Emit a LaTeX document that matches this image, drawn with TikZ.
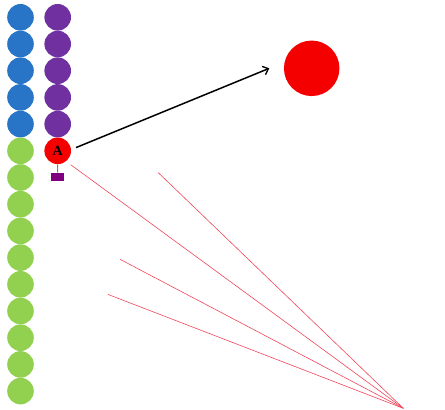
\documentclass[tikz,border=0pt]{standalone}
\usepackage{fontspec}
\setmainfont{Liberation Serif}
\usetikzlibrary{arrows.meta}
\definecolor{cblue}{RGB}{40,116,198}
\definecolor{cpurple}{RGB}{112,48,160}
\definecolor{cgreen}{RGB}{146,208,80}
\definecolor{cred}{RGB}{245,0,0}
\definecolor{cline}{RGB}{240,70,90}
\definecolor{crect}{RGB}{128,0,128}
\tikzset{
  ball/.style={circle, inner sep=0pt, minimum size=26.6pt},
  blueball/.style={ball, fill=cblue},
  purpleball/.style={ball, fill=cpurple},
  greenball/.style={ball, fill=cgreen},
  redball/.style={ball, fill=cred},
  ray/.style={draw=cline, line width=0.6pt},
  bigarrow/.style={draw=black, line width=1.5pt, -{Straight Barb[length=5pt,width=9pt,line width=1.3pt]}},
  stem/.style={draw=gray, line width=1pt},
  tagbox/.style={fill=crect, inner sep=0pt, minimum width=13pt, minimum height=8pt}
}
\begin{document}
\begin{tikzpicture}[x=1pt,y=-1pt]
\useasboundingbox (0,0) rectangle (445,410);
% left column
\foreach \i in {0,...,4}{
  \node[blueball] (b\i) at (20.5,{17.3+26.7*\i}) {};
  \node[purpleball] (p\i) at (57.7,{17.3+26.7*\i}) {};
}
\foreach \i in {5,...,14}{
  \node[greenball] (g\i) at (20.5,{17.3+26.7*\i}) {};
}
% A ball
\node[redball, font=\fontsize{14}{14}\selectfont\bfseries] (A) at (57.7,150.8) {A};
\node[tagbox] (tag) at (57.5,176.7) {};
\draw[stem] (A.south) -- (tag.north);
% big red ball
\node[circle, fill=cred, inner sep=0pt, minimum size=55.5pt] (R) at (311.7,68.3) {};
% arrow
\coordinate (a1) at (76,147.6);
\coordinate (a2) at (269.3,68.3);
\draw[bigarrow] (a1) -- (a2);
% rays
\coordinate (F) at (403.3,408.3);
\coordinate (s1) at (70.7,164.7);
\coordinate (s2) at (158.3,172.7);
\coordinate (s3) at (120,259.3);
\coordinate (s4) at (107.7,294.3);
\draw[ray] (s1) -- (F);
\draw[ray] (s2) -- (F);
\draw[ray] (s3) -- (F);
\draw[ray] (s4) -- (F);
\end{tikzpicture}
\end{document}
